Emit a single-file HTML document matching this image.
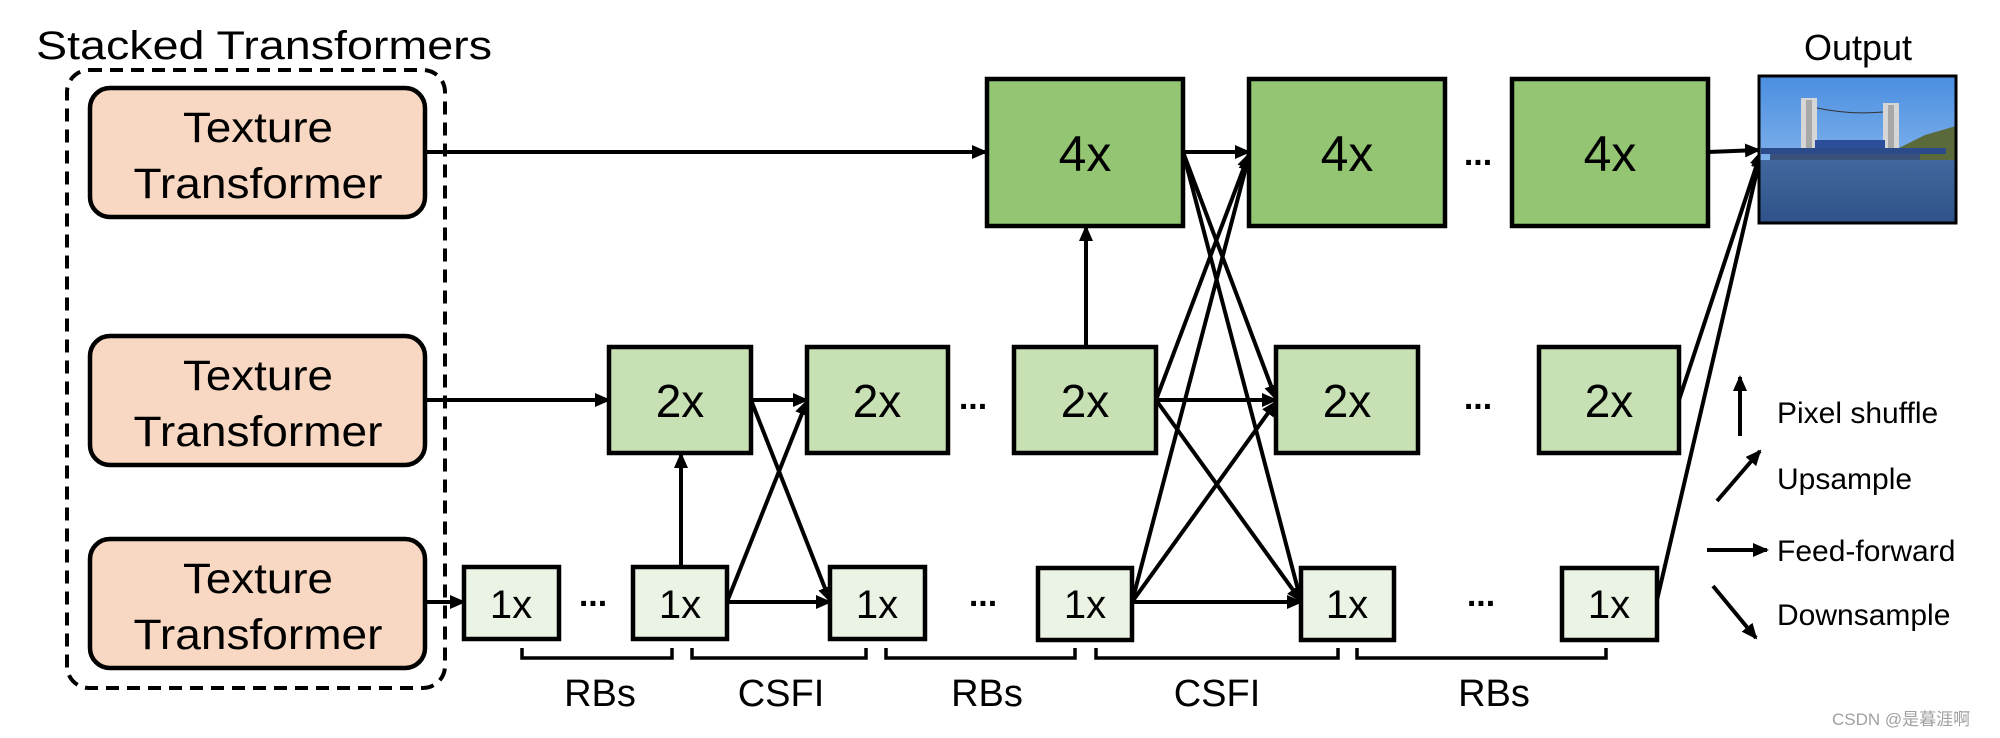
<!DOCTYPE html>
<html><head><meta charset="utf-8"><style>
html,body{margin:0;padding:0;background:#fff;}
svg{display:block;}
text{font-family:"Liberation Sans","Noto Sans CJK SC",sans-serif;fill:#000;}
</style></head><body>
<svg width="2000" height="738" viewBox="0 0 2000 738" xmlns="http://www.w3.org/2000/svg">
<defs>
<marker id="ah" markerWidth="16" markerHeight="16" refX="14" refY="8" orient="auto" markerUnits="userSpaceOnUse" viewBox="0 0 16 16">
<path d="M0,1 L16,8 L0,15 z" fill="#000"/></marker>
<marker id="ahs" markerWidth="16" markerHeight="16" refX="14" refY="8" orient="auto" markerUnits="userSpaceOnUse" viewBox="0 0 16 16">
<path d="M0,1 L16,8 L0,15 z" fill="#000"/></marker>
<linearGradient id="sky" x1="0" y1="0" x2="0" y2="1"><stop offset="0" stop-color="#4a8ee0"/><stop offset="1" stop-color="#a2c9f2"/></linearGradient>
<linearGradient id="water" x1="0" y1="0" x2="0" y2="1"><stop offset="0" stop-color="#41689e"/><stop offset="1" stop-color="#2e5289"/></linearGradient>
</defs>

<text x="36" y="59" font-size="40" textLength="456" lengthAdjust="spacingAndGlyphs">Stacked Transformers</text>
<rect x="67" y="70" width="378" height="618" rx="22" fill="none" stroke="#000" stroke-width="4" stroke-dasharray="13,8"/>

<g stroke="#000" stroke-width="4.5" fill="#f8d8c2">
<rect x="90" y="88" width="335" height="129" rx="20"/>
<rect x="90" y="336" width="335" height="129" rx="20"/>
<rect x="90" y="539" width="335" height="129" rx="20"/>
</g>
<g font-size="43" text-anchor="middle">
<text x="258" y="142" textLength="150" lengthAdjust="spacingAndGlyphs">Texture</text>
<text x="258" y="198" textLength="249" lengthAdjust="spacingAndGlyphs">Transformer</text>
<text x="258" y="390" textLength="150" lengthAdjust="spacingAndGlyphs">Texture</text>
<text x="258" y="446" textLength="249" lengthAdjust="spacingAndGlyphs">Transformer</text>
<text x="258" y="593" textLength="150" lengthAdjust="spacingAndGlyphs">Texture</text>
<text x="258" y="649" textLength="249" lengthAdjust="spacingAndGlyphs">Transformer</text>
</g>

<g stroke="#000" stroke-width="4" fill="none" marker-end="url(#ah)">
<line x1="425" y1="152" x2="986" y2="152"/>
<line x1="425" y1="400" x2="609" y2="400"/>
<line x1="425" y1="602" x2="464" y2="602"/>
<line x1="681" y1="566" x2="681" y2="454"/>
<line x1="1086" y1="347" x2="1086" y2="227"/>
<line x1="751" y1="400" x2="807" y2="400"/>
<line x1="751" y1="400" x2="830" y2="601"/>
<line x1="727" y1="602" x2="807" y2="401"/>
<line x1="727" y1="602" x2="830" y2="602"/>
<line x1="1183" y1="152" x2="1249" y2="152"/>
<line x1="1183" y1="152" x2="1276" y2="399"/>
<line x1="1183" y1="152" x2="1301" y2="601"/>
<line x1="1156" y1="400" x2="1249" y2="154"/>
<line x1="1156" y1="400" x2="1276" y2="400"/>
<line x1="1156" y1="400" x2="1301" y2="601"/>
<line x1="1132" y1="602" x2="1249" y2="156"/>
<line x1="1132" y1="602" x2="1276" y2="402"/>
<line x1="1132" y1="602" x2="1301" y2="602"/>
<line x1="1708" y1="152" x2="1759" y2="150"/>
<line x1="1679" y1="400" x2="1761" y2="152"/>
<line x1="1657" y1="600" x2="1761" y2="154"/>
</g>

<g stroke="#000" stroke-width="4.5" fill="#93c572">
<rect x="987" y="79" width="196" height="147"/>
<rect x="1249" y="79" width="196" height="147"/>
<rect x="1512" y="79" width="196" height="147"/>
</g>
<g stroke="#000" stroke-width="4.5" fill="#c7e0b4">
<rect x="609" y="347" width="142" height="106"/>
<rect x="807" y="347" width="141" height="106"/>
<rect x="1014" y="347" width="142" height="106"/>
<rect x="1276" y="347" width="142" height="106"/>
<rect x="1539" y="347" width="140" height="106"/>
</g>
<g stroke="#000" stroke-width="4.5" fill="#ebf3e4">
<rect x="464" y="567" width="95" height="72"/>
<rect x="633" y="567" width="94" height="72"/>
<rect x="830" y="567" width="95" height="72"/>
<rect x="1038" y="568" width="94" height="72"/>
<rect x="1301" y="568" width="93" height="72"/>
<rect x="1562" y="568" width="95" height="72"/>
</g>

<g font-size="50" text-anchor="middle">
<text x="1085" y="171">4x</text><text x="1347" y="171">4x</text><text x="1610" y="171">4x</text>
</g>
<g font-size="46" text-anchor="middle">
<text x="680" y="417">2x</text><text x="877" y="417">2x</text><text x="1085" y="417">2x</text><text x="1347" y="417">2x</text><text x="1609" y="417">2x</text>
</g>
<g font-size="40" text-anchor="middle">
<text x="511" y="618">1x</text><text x="680" y="618">1x</text><text x="877" y="618">1x</text><text x="1085" y="618">1x</text><text x="1347" y="618">1x</text><text x="1609" y="618">1x</text>
</g>
<g font-size="34" font-weight="bold" text-anchor="middle">
<text x="593" y="606">...</text><text x="983" y="606">...</text><text x="1481" y="606">...</text>
<text x="973" y="409">...</text><text x="1478" y="409">...</text><text x="1478" y="165">...</text>
</g>

<g stroke="#000" stroke-width="3.5" fill="none">
<path d="M522,648 V658 H672 V648"/>
<path d="M692,648 V658 H866 V648"/>
<path d="M886,648 V658 H1075 V648"/>
<path d="M1096,648 V658 H1338 V648"/>
<path d="M1357,648 V658 H1606 V648"/>
</g>
<g font-size="38" text-anchor="middle">
<text x="600" y="706">RBs</text><text x="781" y="706">CSFI</text><text x="987" y="706">RBs</text><text x="1217" y="706">CSFI</text><text x="1494" y="706">RBs</text>
</g>

<text x="1858" y="60" font-size="36" text-anchor="middle">Output</text>
<g>
<rect x="1759" y="76" width="197" height="147" fill="url(#sky)"/>
<rect x="1759" y="160" width="197" height="63" fill="url(#water)"/>
<path d="M1895,150 L1925,135 L1956,126 L1956,160 L1890,160 z" fill="#5a6a3a"/>
<rect x="1801" y="98" width="16" height="52" fill="#d6d6d6"/>
<rect x="1883" y="103" width="16" height="47" fill="#d6d6d6"/>
<rect x="1806" y="100" width="6" height="48" fill="#a8a8a8"/>
<rect x="1888" y="105" width="6" height="43" fill="#a8a8a8"/>
<path d="M1817,108 Q1850,115 1883,112" stroke="#333" stroke-width="1" fill="none"/>
<rect x="1815" y="140" width="70" height="8" fill="#2c4e9a"/>
<rect x="1761" y="148" width="185" height="6" fill="#2b4a8a"/>
<rect x="1770" y="154" width="150" height="6" fill="#38507a"/>
<rect x="1759" y="76" width="197" height="147" fill="none" stroke="#000" stroke-width="3"/>
</g>

<g stroke="#000" stroke-width="4" fill="none" marker-end="url(#ahs)">
<line x1="1740" y1="436" x2="1740" y2="377"/>
<line x1="1717" y1="501" x2="1760" y2="451"/>
<line x1="1707" y1="550" x2="1767" y2="550"/>
<line x1="1713" y1="586" x2="1756" y2="638"/>
</g>
<g font-size="30">
<text x="1777" y="423">Pixel shuffle</text>
<text x="1777" y="489">Upsample</text>
<text x="1777" y="561">Feed-forward</text>
<text x="1777" y="625">Downsample</text>
</g>
<text x="1832" y="725" font-size="17" style="fill:#a0a0a0">CSDN @是暮涯啊</text>
</svg>
</body></html>
